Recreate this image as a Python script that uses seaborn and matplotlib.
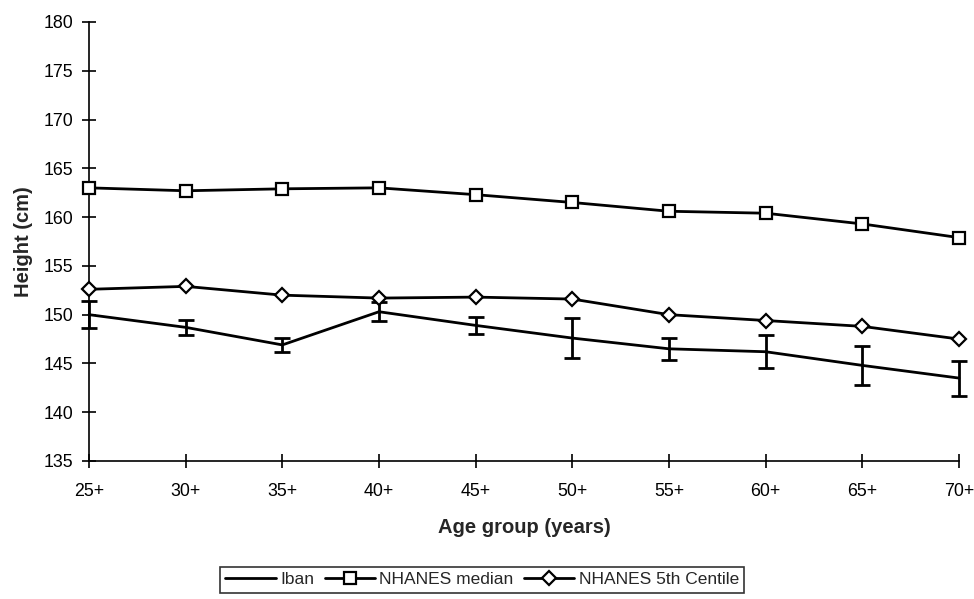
import matplotlib
matplotlib.use("Agg")
import matplotlib.pyplot as plt
import seaborn as sns
import pandas as pd
import numpy as np
from matplotlib.lines import Line2D

age_groups = ["25+", "30+", "35+", "40+", "45+", "50+", "55+", "60+", "65+", "70+"]
iban = [150.0, 148.7, 146.9, 150.3, 148.9, 147.6, 146.5, 146.2, 144.8, 143.5]
iban_err = [1.4, 0.8, 0.7, 1.0, 0.9, 2.05, 1.1, 1.7, 2.0, 1.8]
nhanes_median = [163.0, 162.7, 162.9, 163.0, 162.3, 161.5, 160.6, 160.4, 159.3, 157.9]
nhanes_5th = [152.6, 152.9, 152.0, 151.7, 151.8, 151.6, 150.0, 149.4, 148.8, 147.5]
y_ticks = [135, 140, 145, 150, 155, 160, 165, 170, 175, 180]

sns.set_theme(style="ticks")
plt.rcParams["font.family"] = ["Liberation Sans", "DejaVu Sans"]

fig = plt.figure(figsize=(9.74, 5.99), dpi=100)
left_px, right_px, top_px, bottom_px = 89, 959, 22, 461
ax = fig.add_axes([left_px / 974, 1 - bottom_px / 599,
                   (right_px - left_px) / 974, (bottom_px - top_px) / 599])

x = np.arange(len(age_groups))

sns.lineplot(x=x, y=iban, color="black", linewidth=2, ax=ax, zorder=3)
sns.lineplot(x=x, y=nhanes_median, color="black", linewidth=2, marker="s",
             markersize=9, markerfacecolor="white", markeredgecolor="black",
             markeredgewidth=1.6, ax=ax, zorder=4)
sns.lineplot(x=x, y=nhanes_5th, color="black", linewidth=2, marker="D",
             markersize=7.5, markerfacecolor="white", markeredgecolor="black",
             markeredgewidth=1.6, ax=ax, zorder=4)

ax.errorbar(x, iban, yerr=iban_err, fmt="none", ecolor="black",
            elinewidth=2, capsize=5.8, capthick=2, zorder=2)

for art in list(ax.lines) + list(ax.collections):
    art.set_clip_on(False)

ax.set_xlim(0, len(age_groups) - 1)
ax.set_ylim(135, 180)
ax.set_xticks(x)
ax.set_xticklabels(age_groups)
ax.set_yticks(y_ticks)
ax.tick_params(direction="inout", length=10, width=1.2, color="black",
               labelsize=12.8, labelcolor="black")
ax.tick_params(axis="x", pad=11)
ax.tick_params(axis="y", pad=6)
for s in ["top", "right"]:
    ax.spines[s].set_visible(False)
for s in ["left", "bottom"]:
    ax.spines[s].set_color("black")
    ax.spines[s].set_linewidth(1.2)

ax.set_xlabel("Age group (years)", fontsize=14.5, fontweight="bold", labelpad=13)
ax.set_ylabel("Height (cm)", fontsize=14.5, fontweight="bold", labelpad=8)

handles = [
    Line2D([], [], color="black", lw=2),
    Line2D([], [], color="black", lw=2, marker="s", markersize=9,
           markerfacecolor="white", markeredgecolor="black", markeredgewidth=1.6),
    Line2D([], [], color="black", lw=2, marker="D", markersize=7.5,
           markerfacecolor="white", markeredgecolor="black", markeredgewidth=1.6),
]
leg = fig.legend(handles, ["Iban", "NHANES median", "NHANES 5th Centile"],
                 loc="upper center", bbox_to_anchor=(0.495, 1 - 567 / 599), ncol=3,
                 fontsize=12.5, frameon=True, fancybox=False, handlelength=2.9,
                 handletextpad=0.25, columnspacing=0.6, borderpad=0.3,
                 borderaxespad=0)
leg.get_frame().set_edgecolor("black")
leg.get_frame().set_linewidth(1.2)

fig.savefig("out.png", dpi=100)
